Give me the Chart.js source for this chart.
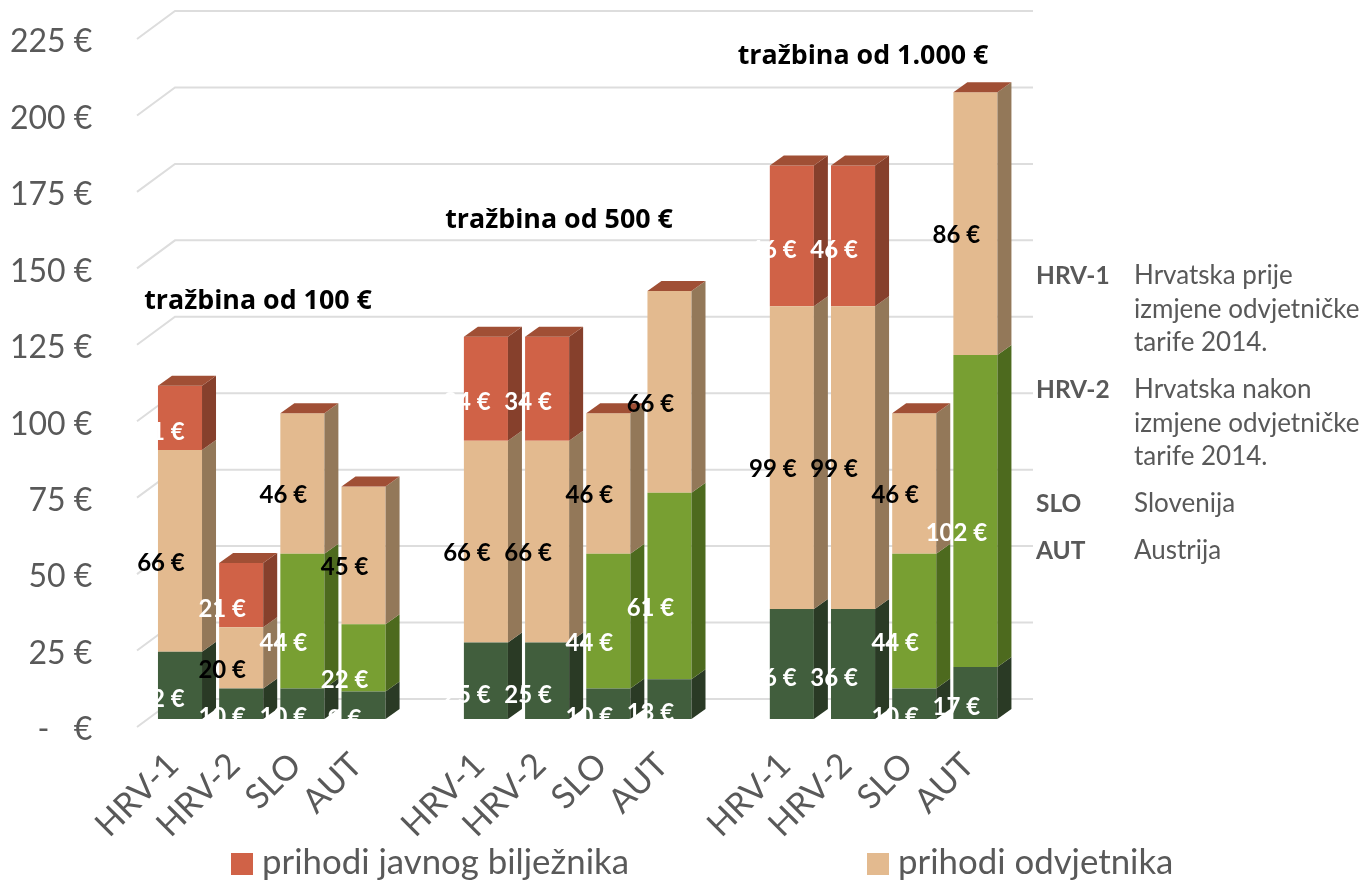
<!DOCTYPE html>
<html>
<head>
<meta charset="utf-8">
<title>Tražbina</title>
<script src="https://cdn.jsdelivr.net/npm/chart.js@4"></script>
<style>
    html, body { margin: 0; padding: 0; background: #fff; overflow: hidden; }
    #wrap { position: relative; width: 1364px; height: 881px; font-family: Lato, sans-serif; color: #595959; }
    canvas { position: absolute; left: 0; top: 0; }
    .legend-item { position: absolute; top: 838px; font-size: 34.8px; line-height: 46px; white-space: nowrap; }
    .legend-item i { position: absolute; left: -31px; top: 15px; width: 22px; height: 22px; }
    .note { position: absolute; font-size: 26px; line-height: 33.5px; white-space: nowrap; }
    .note b { position: absolute; left: -98px; top: 0; font-size: 24.5px; }
</style>
</head>
<body>
<div id="wrap">
    <canvas id="chart" width="1364" height="881"></canvas>
    <div class="legend-item" style="left:262px"><i style="background:#D06247"></i>prihodi javnog bilježnika</div>
    <div class="legend-item" style="left:898px"><i style="background:#E3BA8F"></i>prihodi odvjetnika</div>
    <div class="note" style="left:1134px;top:258px"><b>HRV-1</b>Hrvatska prije<br>izmjene odvjetničke<br>tarife 2014.</div>
    <div class="note" style="left:1134px;top:372px"><b>HRV-2</b>Hrvatska nakon<br>izmjene odvjetničke<br>tarife 2014.</div>
    <div class="note" style="left:1134px;top:486px"><b>SLO</b>Slovenija</div>
    <div class="note" style="left:1134px;top:533px"><b>AUT</b>Austrija</div>
</div>
<script>
// blank categories make the gaps between the three groups
const categories = ['HRV-1', 'HRV-2', 'SLO', 'AUT', '', 'HRV-1', 'HRV-2', 'SLO', 'AUT', '', 'HRV-1', 'HRV-2', 'SLO', 'AUT'];
const darkGreen = [22, 10, 10, 9, null, 25, 25, 10, 13, null, 36, 36, 10, 17];
const lightGreen = [0, 0, 44, 22, null, 0, 0, 44, 61, null, 0, 0, 44, 102];
const lawyer = [66, 20, 46, 45, null, 66, 66, 46, 66, null, 99, 99, 46, 86];
const notary = [21, 21, 0, 0, null, 34, 34, 0, 0, null, 46, 46, 0, 0];
const groupTitles = ['tražbina od 100 €', 'tražbina od 500 €', 'tražbina od 1.000 €'];

const FONT = 'Lato, sans-serif';

// 3D look: sides and grid are drawn from the library's own element and tick positions
const bars3d = {
    id: 'bars3d',
    beforeDatasetsDraw(chart) {
        const { ctx } = chart;
        const yAxis = chart.scales.y;
        ctx.save();
        ctx.strokeStyle = '#DDDDDD';
        ctx.lineWidth = 2;
        yAxis.ticks.forEach((tick, i) => {
            const y = yAxis.getPixelForTick(i);
            ctx.beginPath();
            ctx.moveTo(137, y - 3);
            ctx.lineTo(175, y - 31);
            ctx.lineTo(1033, y - 31);
            ctx.stroke();
        });
        ctx.restore();
    },
    afterDatasetsDraw(chart) {
        const { ctx } = chart;
        const dx = 14, dy = 10;
        ctx.save();
        chart.data.datasets.forEach((ds, d) => {
            const meta = chart.getDatasetMeta(d);
            meta.data.forEach((bar, i) => {
                if (ds.data[i] === null) return;
                const half = bar.width / 2;
                const right = bar.x + half;
                if (ds.data[i] > 0) {
                    ctx.fillStyle = ds.sideColor;
                    ctx.beginPath();
                    ctx.moveTo(right, bar.y);
                    ctx.lineTo(right + dx, bar.y - dy);
                    ctx.lineTo(right + dx, bar.base - dy);
                    ctx.lineTo(right, bar.base);
                    ctx.closePath();
                    ctx.fill();
                }
                // the empty top series still leaves its lid on every stack
                if (d === chart.data.datasets.length - 1) {
                    ctx.fillStyle = '#A04F35';
                    ctx.beginPath();
                    ctx.moveTo(bar.x - half, bar.y);
                    ctx.lineTo(bar.x - half + dx, bar.y - dy);
                    ctx.lineTo(right + dx, bar.y - dy);
                    ctx.lineTo(right, bar.y);
                    ctx.closePath();
                    ctx.fill();
                }
            });
        });
        ctx.restore();
    },
    afterDraw(chart) {
        const { ctx } = chart;
        ctx.save();
        ctx.textAlign = 'center';
        ctx.textBaseline = 'middle';
        ctx.font = 'bold 24px ' + FONT;
        chart.data.datasets.forEach((ds, d) => {
            chart.getDatasetMeta(d).data.forEach((bar, i) => {
                if (!ds.data[i]) return;
                ctx.fillStyle = ds.labelColor;
                ctx.fillText(ds.data[i] + ' €', bar.x - 19, (bar.y + bar.base) / 2 + ds.labelDrop);
            });
        });
        // group captions
        ctx.fillStyle = '#000';
        ctx.font = 'bold 26.8px "Open Sans", sans-serif';
        ctx.fillText(groupTitles[0], 258, 301);
        ctx.fillText(groupTitles[1], 559, 220);
        ctx.fillText(groupTitles[2], 863, 56);
        ctx.restore();
    }
};

new Chart(document.getElementById('chart').getContext('2d'), {
    type: 'bar',
    data: {
        labels: categories,
        datasets: [
            { label: 'tamnozeleno', data: darkGreen, backgroundColor: '#415E3D', sideColor: '#2A3A25', labelColor: '#fff', labelDrop: 14 },
            { label: 'zeleno', data: lightGreen, backgroundColor: '#789F32', sideColor: '#4D6A1E', labelColor: '#fff', labelDrop: 22 },
            { label: 'prihodi odvjetnika', data: lawyer, backgroundColor: '#E3BA8F', sideColor: '#937859', labelColor: '#000', labelDrop: 12 },
            { label: 'prihodi javnog bilježnika', data: notary, backgroundColor: '#D06247', sideColor: '#86402C', labelColor: '#fff', labelDrop: 14 }
        ].map(ds => ({ ...ds, yAxisID: 'yBars', barPercentage: 0.72, categoryPercentage: 1 }))
    },
    options: {
        responsive: false,
        animation: false,
        layout: { padding: { top: 42, right: 358, left: 0, bottom: 0 } },
        plugins: { legend: { display: false }, tooltip: { enabled: false } },
        scales: {
            x: {
                stacked: true,
                grid: { display: false },
                border: { display: false },
                afterFit: scale => { scale.height = 151; },
                ticks: {
                    autoSkip: false,
                    minRotation: 45,
                    maxRotation: 45,
                    padding: 7,
                    labelOffset: -7,
                    color: '#595959',
                    font: { family: FONT, size: 34 }
                }
            },
            // front plane of the axis, only for the labels and the grid
            y: {
                min: 0,
                max: 225,
                grid: { display: false },
                border: { display: false },
                afterFit: scale => {
                    scale.width = 149.4;
                    // tick padding would otherwise push the plot top down
                    scale.paddingTop = 0;
                    scale.paddingBottom = 0;
                },
                ticks: {
                    stepSize: 25,
                    padding: 49,
                    color: '#595959',
                    font: { family: FONT, size: 32 },
                    callback: v => (v === 0 ? '-   €' : v + ' €')
                }
            },
            // bars stand a little deeper than the axis plane
            yBars: { display: false, stacked: true, min: -3.6, max: 221.4 }
        }
    },
    plugins: [bars3d]
});
</script>
</body>
</html>
